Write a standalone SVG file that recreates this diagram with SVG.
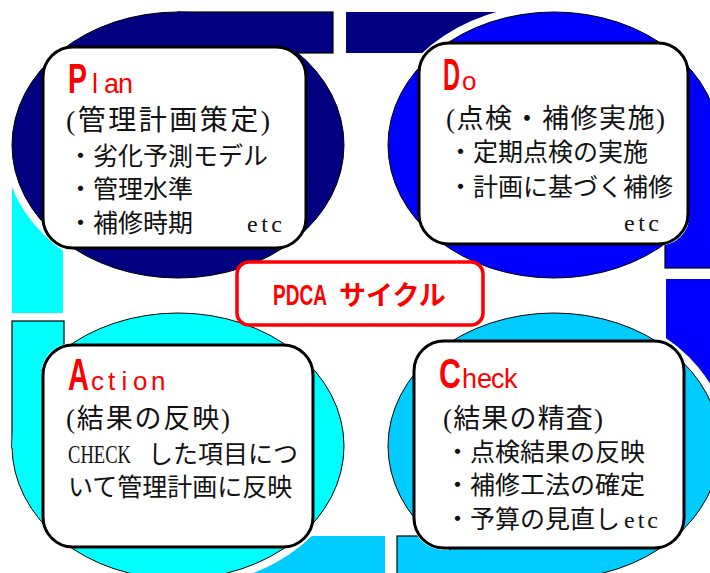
<svg xmlns="http://www.w3.org/2000/svg" width="710" height="573" viewBox="0 0 710 573">
<style>
.ell{stroke:#000;stroke-width:1}
.box{fill:#fff;stroke:#000;stroke-width:3}
.jp{font-family:"Liberation Serif","Noto Sans CJK JP",serif;fill:#111}
.h{font-size:27px}
.li{font-size:25px}
.big{font-family:"Liberation Sans",sans-serif;fill:#f00}
.cap{font-weight:bold}
.bandline{fill:none;stroke:#000;stroke-width:1.2}
.pdca{font-family:"Liberation Sans","Noto Sans CJK JP",sans-serif;font-weight:bold;fill:#f00}
</style>
<defs>
<mask id="mFillP" maskUnits="userSpaceOnUse" x="0" y="0" width="710" height="573"><rect width="710" height="573" fill="#fff"/><rect x="41" y="45" width="267" height="205" rx="32" fill="#000"/></mask>
<mask id="mStrokeP" maskUnits="userSpaceOnUse" x="0" y="0" width="710" height="573"><rect width="710" height="573" fill="#fff"/><ellipse cx="178" cy="145" rx="166" ry="133" fill="#000"/><rect x="41" y="45" width="267" height="205" rx="32" fill="#000"/></mask>
<mask id="mFillD" maskUnits="userSpaceOnUse" x="0" y="0" width="710" height="573"><rect width="710" height="573" fill="#fff"/><rect x="417" y="41" width="273" height="205" rx="32" fill="#000"/></mask>
<mask id="mStrokeD" maskUnits="userSpaceOnUse" x="0" y="0" width="710" height="573"><rect width="710" height="573" fill="#fff"/><ellipse cx="554" cy="145" rx="166" ry="133" fill="#000"/><rect x="417" y="41" width="273" height="205" rx="32" fill="#000"/></mask>
<mask id="mFillC" maskUnits="userSpaceOnUse" x="0" y="0" width="710" height="573"><rect width="710" height="573" fill="#fff"/><rect x="412" y="339" width="274" height="211" rx="32" fill="#000"/></mask>
<mask id="mStrokeC" maskUnits="userSpaceOnUse" x="0" y="0" width="710" height="573"><rect width="710" height="573" fill="#fff"/><ellipse cx="554" cy="446" rx="166" ry="133" fill="#000"/><rect x="412" y="339" width="274" height="211" rx="32" fill="#000"/></mask>
<mask id="mFillA" maskUnits="userSpaceOnUse" x="0" y="0" width="710" height="573"><rect width="710" height="573" fill="#fff"/><rect x="41" y="343" width="274" height="206" rx="32" fill="#000"/></mask>
<mask id="mStrokeA" maskUnits="userSpaceOnUse" x="0" y="0" width="710" height="573"><rect width="710" height="573" fill="#fff"/><ellipse cx="178" cy="446" rx="166" ry="133" fill="#000"/><rect x="41" y="343" width="274" height="206" rx="32" fill="#000"/></mask>
<mask id="mHaloP" maskUnits="userSpaceOnUse" x="0" y="0" width="710" height="573"><rect width="710" height="573" fill="#fff"/><ellipse cx="178" cy="145" rx="174" ry="141" fill="#000"/><rect x="41" y="45" width="267" height="205" rx="32" fill="#000"/></mask>
<mask id="mHaloD" maskUnits="userSpaceOnUse" x="0" y="0" width="710" height="573"><rect width="710" height="573" fill="#fff"/><ellipse cx="554" cy="145" rx="174" ry="141" fill="#000"/><rect x="417" y="41" width="273" height="205" rx="32" fill="#000"/></mask>
<mask id="mHaloC" maskUnits="userSpaceOnUse" x="0" y="0" width="710" height="573"><rect width="710" height="573" fill="#fff"/><ellipse cx="554" cy="446" rx="174" ry="141" fill="#000"/><rect x="412" y="339" width="274" height="211" rx="32" fill="#000"/></mask>
<mask id="mHaloA" maskUnits="userSpaceOnUse" x="0" y="0" width="710" height="573"><rect width="710" height="573" fill="#fff"/><ellipse cx="178" cy="446" rx="174" ry="141" fill="#000"/><rect x="41" y="343" width="274" height="206" rx="32" fill="#000"/></mask>
</defs>
<rect width="710" height="573" fill="#fff"/>

<g id="plan">
<ellipse class="ell" cx="178" cy="145" rx="166" ry="133" fill="#000080"/>
<rect class="box" x="43" y="47" width="263" height="201" rx="30"/>
<text class="big" y="93"><tspan class="cap" x="68" font-size="42" textLength="19" lengthAdjust="spacingAndGlyphs">P</tspan><tspan x="92 104 118" font-size="27">lan</tspan></text>
<text class="jp" x="66" y="130" font-size="28" textLength="204">(管理計画策定)</text>
<text class="jp li" x="68" y="165">・劣化予測モデル</text>
<text class="jp li" x="68" y="198">・管理水準</text>
<text class="jp li" x="68" y="232">・補修時期 <tspan x="247" font-size="24" letter-spacing="3.5">etc</tspan></text>
</g>

<g id="do">
<ellipse class="ell" cx="554" cy="145" rx="166" ry="133" fill="#0000ff"/>
<rect class="box" x="419" y="43" width="269" height="201" rx="30"/>
<text class="big" y="90"><tspan class="cap" x="443" font-size="44" textLength="17" lengthAdjust="spacingAndGlyphs">D</tspan><tspan x="462" font-size="26">o</tspan></text>
<text class="jp h" x="446" y="128" textLength="219">(点検・補修実施)</text>
<text class="jp li" x="448" y="161">・定期点検の実施</text>
<text class="jp li" x="448" y="196">・計画に基づく補修</text>
<text class="jp" x="624" y="231" font-size="24" letter-spacing="3.5">etc</text>
</g>

<g id="action">
<ellipse class="ell" cx="178" cy="446" rx="166" ry="133" fill="#00ffff"/>
<rect class="box" x="43" y="345" width="270" height="202" rx="30"/>
<text class="big" y="390"><tspan class="cap" x="68" font-size="44" textLength="21" lengthAdjust="spacingAndGlyphs">A</tspan><tspan x="91 108 121.5 133 151" font-size="26">ction</tspan></text>
<text class="jp h" x="66" y="428" textLength="164">(結果の反映)</text>
<text class="jp li" x="68" y="463"><tspan font-size="25" textLength="63" lengthAdjust="spacingAndGlyphs">CHECK</tspan> <tspan x="148">した項目につ</tspan></text>
<text class="jp li" x="68" y="496">いて管理計画に反映</text>
</g>

<g id="check">
<ellipse class="ell" cx="554" cy="446" rx="166" ry="133" fill="#00ccff"/>
<rect class="box" x="414" y="341" width="270" height="207" rx="30"/>
<text class="big" y="388"><tspan class="cap" x="439" font-size="42" textLength="22" lengthAdjust="spacingAndGlyphs">C</tspan><tspan x="462 477 491 504" font-size="27">heck</tspan></text>
<text class="jp h" x="443" y="428" textLength="160">(結果の精査)</text>
<text class="jp li" x="445" y="461">・点検結果の反映</text>
<text class="jp li" x="445" y="494">・補修工法の確定</text>
<text class="jp li" x="445" y="528">・予算の見直し <tspan x="624" font-size="24" letter-spacing="3">etc</tspan></text>
</g>

<g id="connectors">
<!-- Plan -> Do (navy) -->
<rect x="178" y="12" width="155" height="41" fill="#000080" mask="url(#mFillP)"/>
<rect class="bandline" x="178" y="12" width="155" height="41" mask="url(#mStrokeP)"/>
<rect x="346" y="12" width="210" height="41" fill="#000080" mask="url(#mHaloD)"/>
<!-- Do -> Check (blue) -->
<rect x="665" y="145" width="50" height="123" fill="#0000ff" mask="url(#mFillD)"/>
<rect class="bandline" x="665" y="145" width="50" height="123" mask="url(#mStrokeD)"/>
<rect x="666" y="279" width="50" height="170" fill="#0000ff" mask="url(#mHaloC)"/>
<!-- Check -> Action (deep sky) -->
<rect x="397" y="536" width="159" height="40" fill="#00ccff" mask="url(#mFillC)"/>
<rect class="bandline" x="397" y="536" width="159" height="40" mask="url(#mStrokeC)"/>
<rect x="176" y="536" width="209" height="40" fill="#00ccff" mask="url(#mHaloA)"/>
<!-- Action -> Plan (cyan) -->
<rect x="12" y="321" width="52" height="127" fill="#00ffff" mask="url(#mFillA)"/>
<rect class="bandline" x="12" y="321" width="52" height="127" mask="url(#mStrokeA)"/>
<rect x="12" y="143" width="51" height="170" fill="#00ffff" mask="url(#mHaloP)"/>
</g>

<g id="pdca">
<rect x="237" y="262" width="246" height="63" rx="12" fill="#fff" stroke="#f00" stroke-width="3.5"/>
<text class="pdca" y="305"><tspan x="273" font-size="29" textLength="54" lengthAdjust="spacingAndGlyphs">PDCA</tspan> <tspan x="339" font-size="27">サイクル</tspan></text>
</g>
</svg>
